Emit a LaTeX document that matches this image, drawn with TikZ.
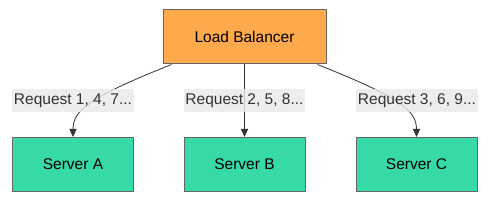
\documentclass[tikz,border=0pt]{standalone}
\usepackage{fontspec}
\setmainfont{Liberation Sans}
\usetikzlibrary{arrows.meta}
\definecolor{lborange}{HTML}{FFA94D}
\definecolor{srvgreen}{HTML}{38D9A9}
\definecolor{lblgray}{HTML}{E8E8E8}
\begin{document}
\begin{tikzpicture}[x=1pt,y=-1pt,font=\fontsize{15.5}{18}\selectfont,
  box/.style={draw=black!60,line width=1pt,minimum width=121pt,minimum height=54pt,inner sep=0pt},
  lbl/.style={fill=lblgray,fill opacity=0.8,text opacity=1,inner sep=1.5pt,minimum height=23pt,text=black!80},
  edge/.style={draw=black!80,line width=0.8pt,-{Triangle[length=8pt,width=7pt]}}]
\useasboundingbox (0,0) rectangle (493,203);
\node[box,fill=lborange,minimum width=163pt] (lb) at (244.5,37) {Load Balancer};
\node[box,fill=srvgreen] (sa) at (73,164.5) {Server A};
\node[box,fill=srvgreen] (sb) at (244.5,164.5) {Server B};
\node[box,fill=srvgreen] (sc) at (416.5,164.5) {Server C};
\draw[edge] (lb.south west) ++(9,0) .. controls (90,97) and (73,110) .. (sa.north);
\draw[edge] (lb.south) -- (sb.north);
\draw[edge] (lb.south east) ++(-9,0) .. controls (399,97) and (416.5,110) .. (sc.north);
\node[lbl] (la) at (73,101) {Request 1, 4, 7...};
\node[lbl] (lbb) at (244.5,101) {Request 2, 5, 8...};
\node[lbl] (lc) at (417,101) {Request 3, 6, 9...};
\end{tikzpicture}
\end{document}
